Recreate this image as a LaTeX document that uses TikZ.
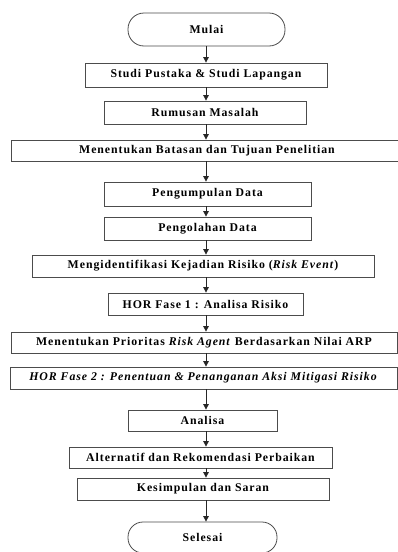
\documentclass[tikz,border=0pt]{standalone}
\usepackage{fontspec}
\setmainfont{Liberation Serif}[LetterSpace=8]
\usetikzlibrary{arrows.meta}
\begin{document}
\begin{tikzpicture}[x=1pt,y=-1pt,
  box/.style={draw=black!70, line width=0.8pt, inner sep=0pt, align=center,
    font=\bfseries\fontsize{11.8}{13}\selectfont},
  term/.style={box, rounded corners=16pt},
  arr/.style={draw=black!85, line width=0.8pt, -{Triangle[width=5.5pt,length=5.5pt]}}]
\useasboundingbox (0,0) rectangle (398,552);
\fill[white] (0,0) rectangle (398,552);
\coordinate (X) at (206,0);
\node[term, minimum width=157pt, minimum height=33pt] (mulai) at (206.5,29.5) {Mulai};
\node[box, minimum width=242pt, minimum height=24pt] (studi) at (206,75) {Studi Pustaka \& Studi Lapangan};
\node[box, minimum width=202pt, minimum height=23pt] (rumus) at (205,112.5) {Rumusan Masalah};
\node[box, minimum width=392pt, minimum height=21pt] (batas) at (207,150.5) {Menentukan Batasan dan Tujuan Penelitian};
\node[box, minimum width=207pt, minimum height=24pt] (kumpul) at (207.5,194) {Pengumpulan Data};
\node[box, minimum width=207pt, minimum height=23pt] (olah) at (207.5,228.5) {Pengolahan Data};
\node[box, minimum width=342pt, minimum height=22pt] (identi) at (203,266) {Mengidentifikasi Kejadian Risiko (\textit{Risk Event})};
\node[box, minimum width=195pt, minimum height=22pt] (hor1) at (205.5,304) {HOR Fase 1 : Analisa Risiko};
\node[box, minimum width=386pt, minimum height=21pt] (prior) at (204,342.5) {Menentukan Prioritas \textit{Risk Agent} Berdasarkan Nilai ARP};
\node[box, minimum width=387pt, minimum height=22pt] (hor2) at (203.5,378) {\textit{HOR Fase 2 : Penentuan \& Penanganan Aksi Mitigasi Risiko}};
\node[box, minimum width=149pt, minimum height=21pt] (analisa) at (202.5,420.5) {Analisa};
\node[box, minimum width=263pt, minimum height=21pt] (alt) at (200.5,457.5) {Alternatif dan Rekomendasi Perbaikan};
\node[box, minimum width=252pt, minimum height=22pt] (simpul) at (203,489) {Kesimpulan dan Saran};
\node[term, minimum width=149pt, minimum height=31pt, rounded corners=15pt] (selesai) at (202.5,537.5) {Selesai};
\foreach \a/\b in {mulai/studi, studi/rumus, rumus/batas, batas/kumpul, kumpul/olah,
  olah/identi, identi/hor1, hor1/prior, prior/hor2, hor2/analisa, analisa/alt,
  alt/simpul, simpul/selesai}
  \draw[arr] (\a.south -| X) -- (\b.north -| X);
\end{tikzpicture}
\end{document}
